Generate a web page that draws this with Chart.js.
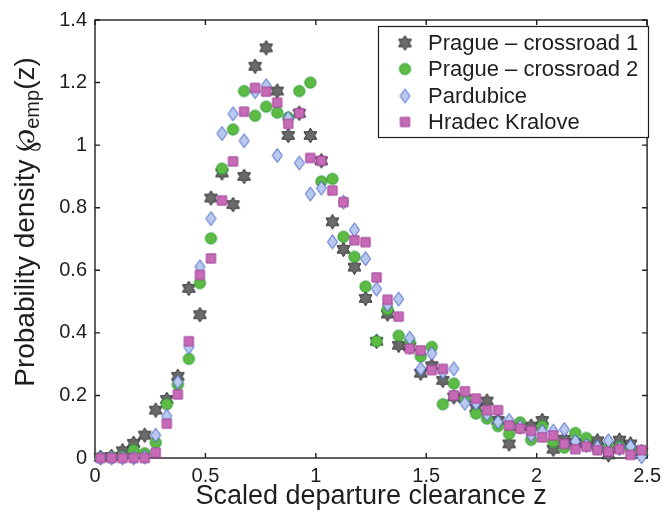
<!DOCTYPE html>
<html>
<head>
<meta charset="utf-8">
<title>Departure clearance density</title>
<script src="https://cdn.jsdelivr.net/npm/chart.js@4.4.1/dist/chart.umd.min.js"></script>
<style>
  html, body { margin: 0; padding: 0; background: #fff; }
  canvas { display: block; }
</style>
</head>
<body>
<canvas id="densityChart" width="667" height="521"></canvas>
<script>
// bin centres of the histogram (scaled clearance z)
const zBins = [0.025, 0.075, 0.125, 0.175, 0.225, 0.275, 0.325, 0.375, 0.425, 0.475,
               0.525, 0.575, 0.625, 0.675, 0.725, 0.775, 0.825, 0.875, 0.925, 0.975,
               1.025, 1.075, 1.125, 1.175, 1.225, 1.275, 1.325, 1.375, 1.425, 1.475,
               1.525, 1.575, 1.625, 1.675, 1.725, 1.775, 1.825, 1.875, 1.925, 1.975,
               2.025, 2.075, 2.125, 2.175, 2.225, 2.275, 2.325, 2.375, 2.425, 2.475];

const seriesNames = ['Prague \u2013 crossroad 1', 'Prague \u2013 crossroad 2', 'Pardubice', 'Hradec Kralove'];

const prague1 = [0.002, 0.005, 0.023, 0.047, 0.073, 0.153, 0.187, 0.261, 0.542, 0.458,
                 0.831, 0.911, 0.810, 0.900, 1.252, 1.311, 1.173, 1.031, 1.102, 1.031,
                 0.950, 0.755, 0.667, 0.610, 0.510, 0.373, 0.460, 0.360, 0.355, 0.271,
                 0.295, 0.248, 0.195, 0.190, 0.160, 0.182, 0.120, 0.045, 0.100, 0.102,
                 0.120, 0.028, 0.060, 0.050, 0.045, 0.055, 0.010, 0.057, 0.045, 0.020];

const prague2 = [0.002, 0.003, 0.005, 0.025, 0.015, 0.049, 0.172, 0.235, 0.317, 0.559,
                 0.702, 0.925, 1.050, 1.173, 1.094, 1.123, 1.104, 1.088, 1.173, 1.200,
                 0.884, 0.892, 0.707, 0.643, 0.548, 0.373, 0.475, 0.391, 0.370, 0.325,
                 0.355, 0.172, 0.238, 0.190, 0.142, 0.126, 0.102, 0.077, 0.114, 0.058,
                 0.102, 0.052, 0.033, 0.080, 0.064, 0.030, 0.032, 0.036, 0.030, 0.015];

const pardubice = [0.000, 0.000, 0.000, 0.000, 0.003, 0.073, 0.134, 0.243, 0.354, 0.611,
                   0.765, 1.037, 1.100, 1.014, 1.171, 1.190, 0.967, 1.086, 0.943, 0.844,
                   0.863, 0.691, 0.818, 0.729, 0.637, 0.540, 0.490, 0.508, 0.383, 0.285,
                   0.334, 0.275, 0.285, 0.175, 0.175, 0.140, 0.115, 0.120, 0.100, 0.073,
                   0.085, 0.086, 0.091, 0.053, 0.040, 0.035, 0.055, 0.030, 0.037, 0.004];

const hradec = [0.000, 0.000, 0.000, 0.000, 0.000, 0.017, 0.110, 0.203, 0.373, 0.585,
                0.638, 0.823, 0.948, 1.107, 1.183, 1.171, 1.136, 1.068, 1.102, 0.959,
                0.950, 0.855, 0.818, 0.696, 0.690, 0.577, 0.506, 0.452, 0.349, 0.344,
                0.281, 0.285, 0.200, 0.213, 0.190, 0.153, 0.153, 0.104, 0.094, 0.087,
                0.066, 0.072, 0.045, 0.028, 0.036, 0.025, 0.020, 0.028, 0.010, 0.025];

const xTicks = [0, 0.5, 1, 1.5, 2, 2.5];
const yTicks = [0, 0.2, 0.4, 0.6, 0.8, 1, 1.2, 1.4];

const FONT = '"Liberation Sans", Arial, Helvetica, sans-serif';
const INK = '#1e1e1e';

// small bitmaps used as point styles (MATLAB-like markers)
function makeMarker(kind, fill, stroke) {
  const c = document.createElement('canvas');
  c.width = 17; c.height = 17;
  const g = c.getContext('2d');
  g.translate(8.5, 8.5);
  g.beginPath();
  if (kind === 'hexagram') {
    const R = 7.4, r = 4.3;
    for (let i = 0; i < 12; i++) {
      const a = -Math.PI / 2 + i * Math.PI / 6;
      const rad = i % 2 === 0 ? R : r;
      g.lineTo(rad * Math.cos(a), rad * Math.sin(a));
    }
    g.closePath();
  } else if (kind === 'circle') {
    g.arc(0, 0, 5.6, 0, Math.PI * 2);
  } else if (kind === 'diamond') {
    g.moveTo(0, -7); g.lineTo(5, 0); g.lineTo(0, 7); g.lineTo(-5, 0); g.closePath();
  } else {
    g.rect(-4.6, -4.6, 9.2, 9.2);
  }
  g.fillStyle = fill;
  g.fill();
  g.lineWidth = 1;
  g.strokeStyle = stroke;
  g.stroke();
  return c;
}

const markers = [
  makeMarker('hexagram', '#6a6a6a', '#2e2e2e'),
  makeMarker('circle', '#5cbb43', '#2f9a3a'),
  makeMarker('diamond', '#b9c8ee', '#3f5fc4'),
  makeMarker('square', '#c76bb6', '#a2469c')
];

function toPoints(values) {
  return zBins.map((z, i) => ({ x: z, y: values[i] }));
}

const allSeries = [prague1, prague2, pardubice, hradec];
const datasets = allSeries.map((vals, i) => ({
  label: seriesNames[i],
  data: toPoints(vals),
  pointStyle: markers[i],
  pointRadius: 6,
  clip: false,
  // later series drawn on top
  order: allSeries.length - i
}));

// box, inward ticks, titles and legend
const framePlugin = {
  id: 'frame',
  beforeDatasetsDraw(chart) {
    const { ctx, chartArea: a, scales } = chart;
    ctx.save();
    ctx.strokeStyle = INK;
    ctx.lineWidth = 1.4;
    ctx.strokeRect(a.left, a.top, a.right - a.left, a.bottom - a.top);
    const tl = 5;
    ctx.beginPath();
    xTicks.forEach(v => {
      const x = scales.x.getPixelForValue(v);
      ctx.moveTo(x, a.bottom); ctx.lineTo(x, a.bottom - tl);
      ctx.moveTo(x, a.top); ctx.lineTo(x, a.top + tl);
    });
    yTicks.forEach(v => {
      const y = scales.y.getPixelForValue(v);
      ctx.moveTo(a.left, y); ctx.lineTo(a.left + tl, y);
      ctx.moveTo(a.right, y); ctx.lineTo(a.right - tl, y);
    });
    ctx.stroke();
    ctx.restore();
  },
  afterDraw(chart) {
    const { ctx, chartArea: a } = chart;
    ctx.save();
    ctx.fillStyle = INK;

    // x axis title
    ctx.font = '27px ' + FONT;
    ctx.textAlign = 'center';
    ctx.textBaseline = 'middle';
    ctx.fillText('Scaled departure clearance z', (a.left + a.right) / 2, 497);

    // y axis title with subscript
    const big = '28px ' + FONT, small = '20px ' + FONT;
    const parts = [
      { t: 'Probability density ', f: big, dy: 0 },
      { t: '\u2118', f: big, dy: 0 },
      { t: 'emp', f: small, dy: 7 },
      { t: '(z)', f: big, dy: 0 }
    ];
    let total = 0;
    parts.forEach(p => { ctx.font = p.f; p.w = ctx.measureText(p.t).width; total += p.w; });
    ctx.translate(26, 222);
    ctx.rotate(-Math.PI / 2);
    ctx.textAlign = 'left';
    let x = -total / 2;
    parts.forEach(p => {
      ctx.font = p.f;
      ctx.fillText(p.t, x, p.dy);
      x += p.w;
    });
    ctx.restore();

    // legend
    ctx.save();
    const box = { left: 378, top: 26, right: 648, bottom: 137 };
    ctx.fillStyle = '#fff';
    ctx.fillRect(box.left, box.top, box.right - box.left, box.bottom - box.top);
    ctx.strokeStyle = INK;
    ctx.lineWidth = 1.2;
    ctx.strokeRect(box.left + 0.5, box.top + 0.5, box.right - box.left, box.bottom - box.top);
    const rows = [43, 69, 96, 122];
    ctx.font = '22px ' + FONT;
    ctx.fillStyle = INK;
    ctx.textAlign = 'left';
    ctx.textBaseline = 'middle';
    seriesNames.forEach((name, i) => {
      const m = markers[i];
      ctx.drawImage(m, 405 - m.width / 2, rows[i] - m.height / 2);
      ctx.fillText(name, 428, rows[i] + 1);
    });
    ctx.restore();
  }
};

const tickFont = { family: FONT, size: 20 };

new Chart(document.getElementById('densityChart'), {
  type: 'scatter',
  data: { datasets: datasets },
  options: {
    responsive: false,
    animation: false,
    layout: { padding: { top: 18, right: 15, left: 0, bottom: 0 } },
    plugins: {
      legend: { display: false },
      tooltip: { enabled: false }
    },
    scales: {
      x: {
        type: 'linear',
        min: 0,
        max: 2.5,
        afterBuildTicks: s => { s.ticks = xTicks.map(v => ({ value: v })); },
        afterFit: s => { s.height = 63; },
        grid: { display: false, drawTicks: false },
        border: { display: false },
        ticks: { font: tickFont, color: INK, padding: 6, maxRotation: 0, callback: v => String(v) }
      },
      y: {
        min: 0,
        max: 1.4,
        afterBuildTicks: s => { s.ticks = yTicks.map(v => ({ value: v })); },
        afterFit: s => { s.width = 95; },
        grid: { display: false, drawTicks: false },
        border: { display: false },
        ticks: { font: tickFont, color: INK, padding: 8, callback: v => String(v) }
      }
    }
  },
  plugins: [framePlugin]
});
</script>
</body>
</html>
